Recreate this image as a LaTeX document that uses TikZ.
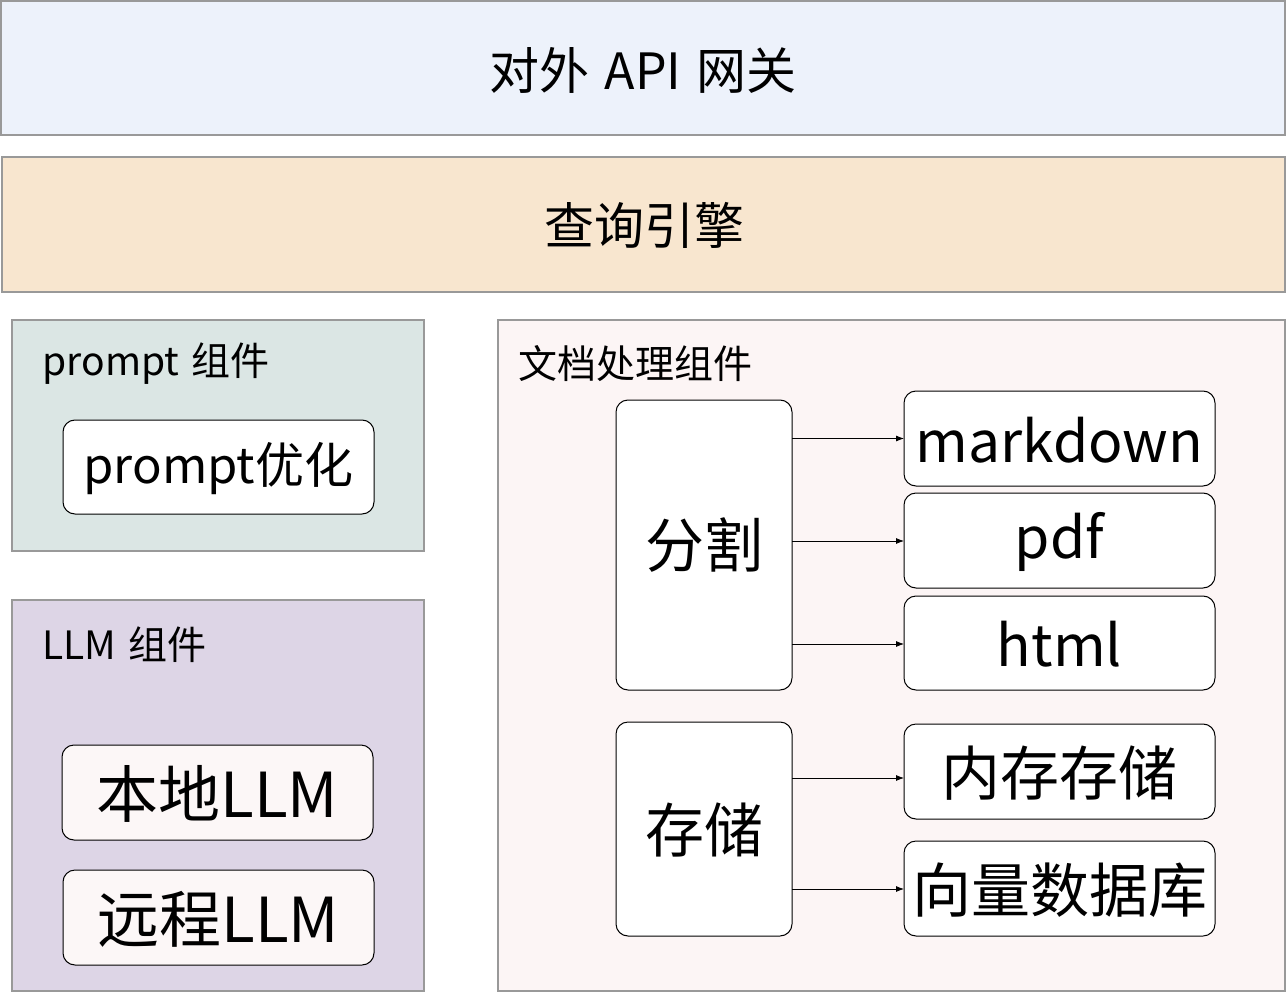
\documentclass[tikz,border=0pt]{standalone}
\usepackage{fontspec}
\setmainfont{Noto Sans CJK SC}
\usetikzlibrary{arrows.meta}
\definecolor{apibg}{HTML}{EDF2FB}
\definecolor{qebg}{HTML}{F8E6CF}
\definecolor{prbg}{HTML}{DBE6E4}
\definecolor{llmbg}{HTML}{DDD5E6}
\definecolor{docbg}{HTML}{FCF5F5}
\definecolor{llmbox}{HTML}{FCF7F7}
\definecolor{grayline}{HTML}{999999}
\tikzset{
  layer/.style={draw=grayline, line width=1.2pt, inner sep=0pt, outer sep=0pt},
  item/.style={draw=black, line width=1pt, rounded corners=12pt, fill=white, inner sep=0pt, outer sep=0pt},
  conn/.style={line width=0.8pt, -{Latex[length=8pt,width=6pt]}},
  big/.style={font=\fontsize{50}{58}\selectfont},
  mid/.style={font=\fontsize{39}{46}\selectfont},
  huge/.style={font=\fontsize{59}{66}\selectfont},
}
\begin{document}
\begin{tikzpicture}[x=1pt,y=-1pt]
\useasboundingbox (0,0) rectangle (1287,992);
% layers
\path[layer, fill=apibg] (1,1) rectangle (1285,135);
\node[big] (api) at (643,70) {对外\hspace{0.3em}API\hspace{0.3em}网关};
\path[layer, fill=qebg] (2,157) rectangle (1285,292);
\node[big] (qe) at (644,225) {查询引擎};
% prompt group
\path[layer, fill=prbg] (12,320) rectangle (424,551);
\node[mid, anchor=west] (prlabel) at (39,364) {prompt\hspace{0.3em}组件};
\node[item, minimum width=311pt, minimum height=94pt] (propt) at (218.5,467) {};
\node[font=\fontsize{49}{56}\selectfont] (proptt) at (218.5,469) {prompt优化};
% LLM group
\path[layer, fill=llmbg] (12,600) rectangle (424,991);
\node[mid, anchor=west] (llmlabel) at (39,645) {LLM\hspace{0.3em}组件};
\node[item, fill=llmbox, minimum width=311pt, minimum height=95pt] (local) at (217.5,792.5) {};
\node[font=\fontsize{62}{70}\selectfont] (localt) at (217.5,794) {本地LLM};
\node[item, fill=llmbox, minimum width=311pt, minimum height=95pt] (remote) at (218.5,917.5) {};
\node[font=\fontsize{62}{70}\selectfont] (remotet) at (218.5,919) {远程LLM};
% doc group
\path[layer, fill=docbg] (498,320) rectangle (1285,991);
\node[mid, anchor=west] (doclabel) at (515,364) {文档处理组件};
\node[item, minimum width=176pt, minimum height=290pt, huge] (split) at (704,545) {分割};
\node[item, minimum width=311pt, minimum height=95pt] (md) at (1059.5,438.5) {};
\node[font=\fontsize{57}{64}\selectfont] (mdt) at (1059.5,440) {markdown};
\node[item, minimum width=311pt, minimum height=95pt] (pdf) at (1059.5,540.5) {};
\node[font=\fontsize{57}{64}\selectfont] (pdft) at (1059.5,542) {pdf};
\node[item, minimum width=311pt, minimum height=94pt] (html) at (1059.5,643) {};
\node[font=\fontsize{57}{64}\selectfont] (htmlt) at (1059.5,644.5) {html};
\node[item, minimum width=176pt, minimum height=214pt] (store) at (704,829) {};
\node[huge] (storet) at (704,830) {存储};
\node[item, minimum width=311pt, minimum height=95pt] (mem) at (1059.5,771.5) {};
\node[huge] (memt) at (1059.5,773) {内存存储};
\node[item, minimum width=311pt, minimum height=95pt] (vec) at (1059.5,888.5) {};
\node[huge] (vect) at (1059.5,890) {向量数据库};
\coordinate (mdin) at ([yshift=0pt]md.west);
\coordinate (pdfin) at ([yshift=-0.5pt]pdf.west);
\coordinate (htmlin) at ([yshift=-1pt]html.west);
\coordinate (memin) at ([yshift=-6.5pt]mem.west);
\coordinate (vecin) at ([yshift=-0.5pt]vec.west);
% connectors
\draw[conn] (split.east |- mdin) -- (mdin);
\draw[conn] (split.east |- pdfin) -- (pdfin);
\draw[conn] (split.east |- htmlin) -- (htmlin);
\draw[conn] (store.east |- memin) -- (memin);
\draw[conn] (store.east |- vecin) -- (vecin);
\end{tikzpicture}
\end{document}
